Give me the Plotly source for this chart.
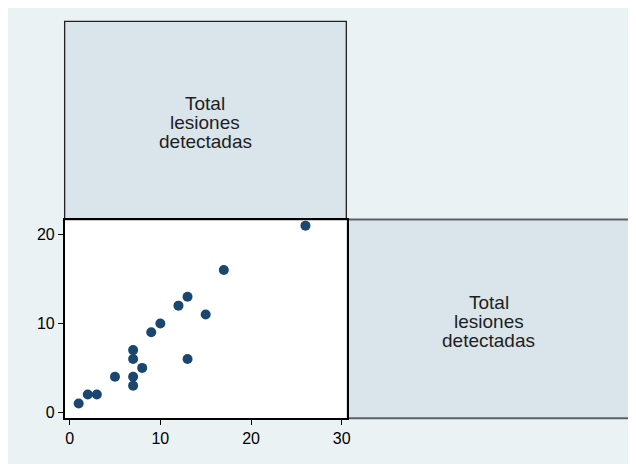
import plotly.graph_objects as go

# Data: Total lesiones detectadas (x) vs (y)
x_vals = [1, 2, 3, 5, 7, 7, 7, 7, 8, 9, 10, 12, 13, 13, 15, 17, 26]
y_vals = [1, 2, 2, 4, 3, 4, 6, 7, 5, 9, 10, 12, 13, 6, 11, 16, 21]
label_lines = ["Total", "lesiones", "detectadas"]
x_ticks = [0, 10, 20, 30]
y_ticks = [0, 10, 20]

# The page shows the figure offset by the 8px body margin
OFF = 8
W, H = 636 - OFF, 464 - OFF
BG = "#eaf2f3"
PANEL = "#d9e5eb"
NAVY = "#1a476f"

def px(x):
    return (x - OFF) / W

def py(y):
    return 1 - (y - OFF) / H

fig = go.Figure()
fig.add_trace(go.Scatter(
    x=x_vals, y=y_vals, mode="markers",
    marker=dict(color=NAVY, size=10, line=dict(width=0)),
    showlegend=False, hoverinfo="x+y",
))

font_family = "Liberation Sans, Arial, sans-serif"

fig.update_layout(
    width=W, height=H,
    margin=dict(l=0, r=0, t=0, b=0),
    paper_bgcolor=BG,
    plot_bgcolor="white",
    font=dict(family=font_family, color="black", size=16),
    xaxis=dict(
        domain=[px(65), px(349)],
        range=[-0.55, 30.56],
        tickvals=x_ticks, ticks="outside", ticklen=5, tickcolor="black",
        tickwidth=1, showgrid=False, zeroline=False,
        showline=True, mirror=True, linecolor="black", linewidth=1.5,
        tickfont=dict(size=16, color="black"),
    ),
    yaxis=dict(
        domain=[py(421), py(221)],
        range=[-0.67, 21.68],
        tickvals=y_ticks, ticks="outside", ticklen=5, tickcolor="black",
        tickwidth=1, showgrid=False, zeroline=False,
        showline=True, mirror=True, linecolor="black", linewidth=1.5,
        tickfont=dict(size=16, color="black"),
    ),
)

shapes = [
    # top-left diagonal label panel
    dict(type="rect", xref="paper", yref="paper", x0=px(65), x1=px(348.5),
         y0=py(221), y1=py(21.5), fillcolor=PANEL,
         line=dict(color="#222222", width=1.3), layer="below"),
    # bottom-right diagonal label panel
    dict(type="rect", xref="paper", yref="paper", x0=px(350), x1=px(633.5),
         y0=py(421), y1=py(221), fillcolor=PANEL,
         line=dict(color="#5a6266", width=2), layer="below"),
]
fig.update_layout(shapes=shapes)

annotations = []
for cx, base_y in [(206.5, 103.8), (492, 303.8)]:
    for i, line in enumerate(label_lines):
        annotations.append(dict(
            xref="paper", yref="paper", x=px(cx), y=py(base_y + 19 * i),
            text=line, showarrow=False, xanchor="center", yanchor="middle",
            height=18, borderpad=0, borderwidth=0, valign="middle",
            font=dict(size=19, color="#1e1e1e", family=font_family),
        ))
fig.update_layout(annotations=annotations)

fig.write_html("out.html")
